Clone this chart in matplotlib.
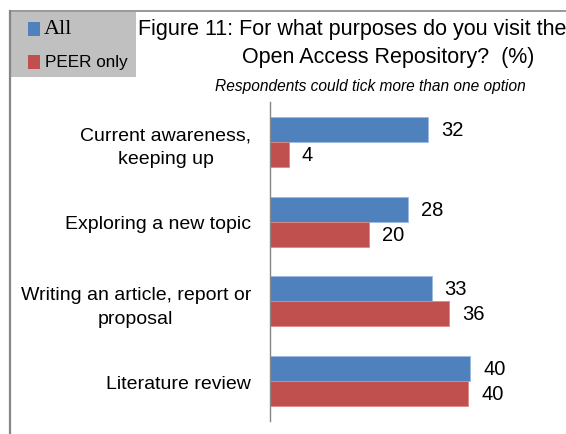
import matplotlib
matplotlib.use("Agg")
import matplotlib.pyplot as plt
from matplotlib.patches import Rectangle
from matplotlib.lines import Line2D
import numpy as np

categories = ["Current awareness,\nkeeping up", "Exploring a new topic",
              "Writing an article, report or\nproposal", "Literature review"]
all_vals = [32, 28, 32.7, 40.5]
peer_vals = [3.8, 20, 36.2, 40.1]
series_names = ["All", "PEER only"]
title_lines = ["Figure 11: For what purposes do you visit the",
               "Open Access Repository?  (%)"]
subtitle = "Respondents could tick more than one option"

BLUE = "#4f81bd"
RED = "#c0504d"
W, H = 566, 435
plt.rcParams['font.family'] = ['Liberation Sans', 'DejaVu Sans']

fig = plt.figure(figsize=(W / 100, H / 100), dpi=100)

def fx(px):
    return px / W

def fy(py):
    return 1 - py / H

# axes
ax_left, ax_right = 269.7, 566.0
ax_top, ax_bot = 103, 422
ax = fig.add_axes([fx(ax_left), fy(ax_bot), fx(ax_right - ax_left), (ax_bot - ax_top) / H])
n = len(categories)
y = np.arange(n)
h = 0.314
ax.barh(y - h / 2, all_vals, height=h, color=BLUE, edgecolor="#9bbbe0", linewidth=0.6)
ax.barh(y + h / 2, peer_vals, height=h, color=RED, edgecolor="#d88a88", linewidth=0.6)
ax.set_ylim(n - 0.5, -0.5)
ax.set_xlim(0, (ax_right - ax_left) / 4.95)
for s in ["top", "right", "bottom"]:
    ax.spines[s].set_visible(False)
ax.spines["left"].set_color("#868686")
ax.spines["left"].set_linewidth(1.0)
ax.set_xticks([])
ax.set_yticks(y)
ax.set_yticklabels(categories, fontsize=14, multialignment="center", linespacing=1.5)
ax.tick_params(axis="y", length=0, pad=13.5)

for i in range(n):
    ax.annotate(f"{round(all_vals[i])}", (all_vals[i], y[i] - h / 2), xytext=(13, 0),
                textcoords="offset pixels", va="center", ha="left", fontsize=14.5)
    ax.annotate(f"{round(peer_vals[i])}", (peer_vals[i], y[i] + h / 2), xytext=(13, 0),
                textcoords="offset pixels", va="center", ha="left", fontsize=14.5)

# border
fig.add_artist(Line2D([fx(10), fx(10)], [fy(12), 0], color="#868686", lw=1.6))
fig.add_artist(Line2D([fx(10), 1], [fy(12), fy(12)], color="#868686", lw=1.2))

# legend box
fig.add_artist(Rectangle((fx(11), fy(78)), fx(125), (78 - 13) / H, facecolor="#c0c0c0",
                         edgecolor="none", transform=fig.transFigure))
fig.add_artist(Rectangle((fx(28), fy(37)), fx(12), 14 / H, facecolor=BLUE,
                         edgecolor="none", transform=fig.transFigure))
fig.add_artist(Rectangle((fx(28), fy(70)), fx(12), 14 / H, facecolor=RED,
                         edgecolor="none", transform=fig.transFigure))
fig.text(fx(44), fy(30), series_names[0], family=["Liberation Serif", "DejaVu Serif"],
         fontsize=16, va="center", ha="left")
fig.text(fx(45), fy(63), series_names[1], fontsize=12.3, va="center", ha="left")

# titles
fig.text(fx(138), fy(29), title_lines[0], fontsize=15.5, va="center", ha="left")
fig.text(fx(388), fy(57), title_lines[1], fontsize=15.5, va="center", ha="center")
fig.text(fx(370), fy(86), subtitle, fontsize=11.2, style="italic", va="center", ha="center")

fig.savefig("out.png", dpi=100)
